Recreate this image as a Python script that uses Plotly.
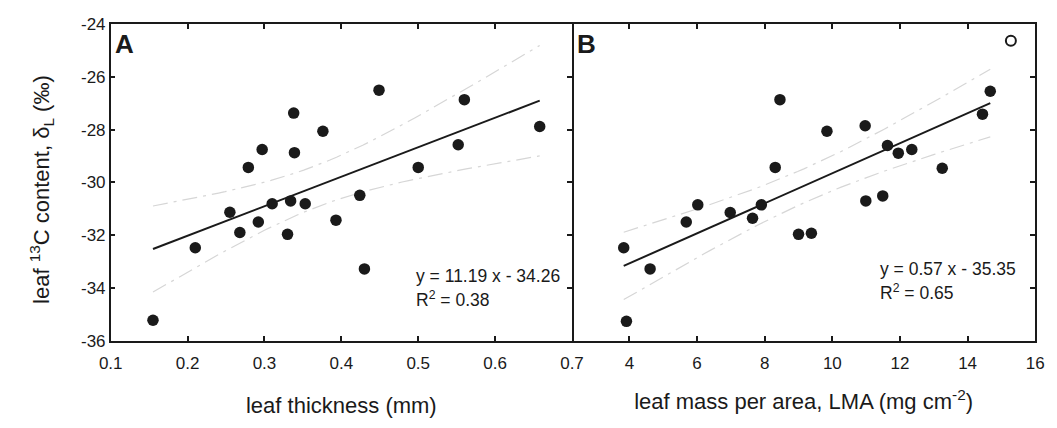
import numpy as np
import plotly.graph_objects as go

# ---- data ----
thick_x = [0.338, 0.376, 0.297, 0.339, 0.279, 0.424, 0.255, 0.310, 0.334, 0.353, 0.268,
           0.292, 0.330, 0.210, 0.393, 0.155, 0.430, 0.449, 0.560, 0.658, 0.552, 0.500]
thick_y = [-27.37, -28.06, -28.75, -28.87, -29.43, -30.49, -31.13, -30.81, -30.70, -30.81, -31.90,
           -31.50, -31.97, -32.48, -31.43, -35.23, -33.28, -26.50, -26.86, -27.88, -28.57, -29.43]

lma_x = [14.67, 14.44, 8.45, 9.84, 10.97, 11.63, 11.95, 12.35, 13.25, 8.31, 10.99,
         11.49, 6.02, 7.90, 6.98, 7.64, 5.68, 9.00, 9.38, 3.83, 4.61, 3.91]
lma_y = [-26.54, -27.41, -26.86, -28.06, -27.85, -28.60, -28.89, -28.75, -29.46, -29.43, -30.70,
         -30.51, -30.85, -30.85, -31.14, -31.36, -31.50, -31.97, -31.93, -32.48, -33.28, -35.27]

outlier_x = [15.28]
outlier_y = [-24.62]

fit_A = (11.19, -34.26)
fit_B = (0.57, -35.35)
eq_A = ["y = 11.19 x - 34.26", "R<sup>2</sup> = 0.38"]
eq_B = ["y = 0.57 x - 35.35", "R<sup>2</sup> = 0.65"]

x_ticks_A = [0.1, 0.2, 0.3, 0.4, 0.5, 0.6, 0.7]
x_ticks_B = [4, 6, 8, 10, 12, 14, 16]
y_ticks = [-36, -34, -32, -30, -28, -26, -24]

FONT = "Arial, 'Liberation Sans', Helvetica, sans-serif"
INK = "#1a1a1a"


def line_and_band(xs, ys, coef, t=2.086):
    xs = np.asarray(xs, float)
    ys = np.asarray(ys, float)
    m, b = coef
    n = len(xs)
    resid = ys - (m * xs + b)
    s = np.sqrt(np.sum(resid ** 2) / (n - 2))
    xbar = xs.mean()
    sxx = np.sum((xs - xbar) ** 2)
    xg = np.linspace(xs.min(), xs.max(), 60)
    yg = m * xg + b
    half = t * s * np.sqrt(1.0 / n + (xg - xbar) ** 2 / sxx)
    return xg, yg, yg + half, yg - half


fig = go.Figure()

for xs, ys, coef, xa, ya in [(thick_x, thick_y, fit_A, "x", "y"),
                             (lma_x, lma_y, fit_B, "x2", "y2")]:
    xg, yg, up, lo = line_and_band(xs, ys, coef)
    for band in (up, lo):
        fig.add_trace(go.Scatter(x=xg, y=band, mode="lines", xaxis=xa, yaxis=ya,
                                 line=dict(color="#d6d6d6", width=1.2, dash="longdashdot"),
                                 showlegend=False, hoverinfo="skip"))
    fig.add_trace(go.Scatter(x=[xg[0], xg[-1]], y=[yg[0], yg[-1]], mode="lines",
                             xaxis=xa, yaxis=ya, line=dict(color=INK, width=2),
                             showlegend=False))
    fig.add_trace(go.Scatter(x=xs, y=ys, mode="markers", xaxis=xa, yaxis=ya,
                             marker=dict(size=11.5, color=INK), showlegend=False))

fig.add_trace(go.Scatter(x=outlier_x, y=outlier_y, mode="markers", xaxis="x2", yaxis="y2",
                         marker=dict(size=10, color="white", line=dict(color=INK, width=2)),
                         showlegend=False))

ydom = [0.1893, 0.9626]
TICKFONT = dict(family=FONT, size=17, color=INK)
TITLEFONT = dict(family=FONT, size=22, color=INK)
common = dict(showline=True, linecolor=INK, linewidth=1.5,
              ticks="inside", ticklen=5, tickwidth=1.5, tickcolor=INK,
              showgrid=False, zeroline=False, tickfont=TICKFONT)

fig.update_layout(
    width=1057, height=428,
    margin=dict(l=0, r=0, t=0, b=0),
    paper_bgcolor="white", plot_bgcolor="white",
    font=dict(family=FONT, color=INK),
    xaxis=dict(domain=[101 / 1057, 573 / 1057], range=[0.1, 0.7], tickvals=x_ticks_A,
               ticktext=[str(v) for v in x_ticks_A], anchor="y", mirror="ticks",
               ticklabelstandoff=6,
               title=dict(text="leaf thickness (mm)", font=TITLEFONT, standoff=26), **common),
    yaxis=dict(domain=ydom, range=[-36, -24], tickvals=y_ticks,
               ticktext=["%d" % v for v in y_ticks], anchor="x", mirror="ticks",
               **common),
    xaxis2=dict(domain=[573 / 1057, 1047 / 1057], range=[2.3, 16], tickvals=x_ticks_B,
                anchor="y2", mirror="ticks", ticklabelstandoff=6,
                title=dict(text="leaf mass per area, LMA (mg cm<sup>-2</sup>)",
                           font=TITLEFONT, standoff=22),
                **common),
    yaxis2=dict(domain=ydom, range=[-36, -24], tickvals=y_ticks, anchor="x2",
                side="right", mirror=False, showticklabels=False, **common),
)

# y-axis title as rotated text (positioned like the reference)
fig.add_annotation(x=30 / 1057, y=1 - 189 / 428, xref="paper", yref="paper",
                   text="leaf <sup>13</sup>C content, δ<sub>L</sub> (‰)", textangle=-90,
                   showarrow=False, xanchor="center", yanchor="middle", font=TITLEFONT)

ann_font = dict(family=FONT, size=17.5, color=INK)
fig.add_annotation(x=0.495, y=-33.55, xref="x", yref="y", text=eq_A[0], showarrow=False,
                   xanchor="left", yanchor="middle", font=ann_font)
fig.add_annotation(x=0.495, y=-34.42, xref="x", yref="y", text=eq_A[1], showarrow=False,
                   xanchor="left", yanchor="middle", font=ann_font)
fig.add_annotation(x=11.35, y=-33.28, xref="x2", yref="y2", text=eq_B[0], showarrow=False,
                   xanchor="left", yanchor="middle", font=ann_font)
fig.add_annotation(x=11.35, y=-34.15, xref="x2", yref="y2", text=eq_B[1], showarrow=False,
                   xanchor="left", yanchor="middle", font=ann_font)

fig.add_annotation(x=0.1, y=-24, xref="x", yref="y", text="<b>A</b>", showarrow=False,
                   xanchor="left", yanchor="top", xshift=2, yshift=-3,
                   font=dict(family=FONT, size=26, color=INK))
fig.add_annotation(x=2.3, y=-24, xref="x2", yref="y2", text="<b>B</b>", showarrow=False,
                   xanchor="left", yanchor="top", xshift=3, yshift=-3,
                   font=dict(family=FONT, size=26, color=INK))

fig.write_html("out.html")
